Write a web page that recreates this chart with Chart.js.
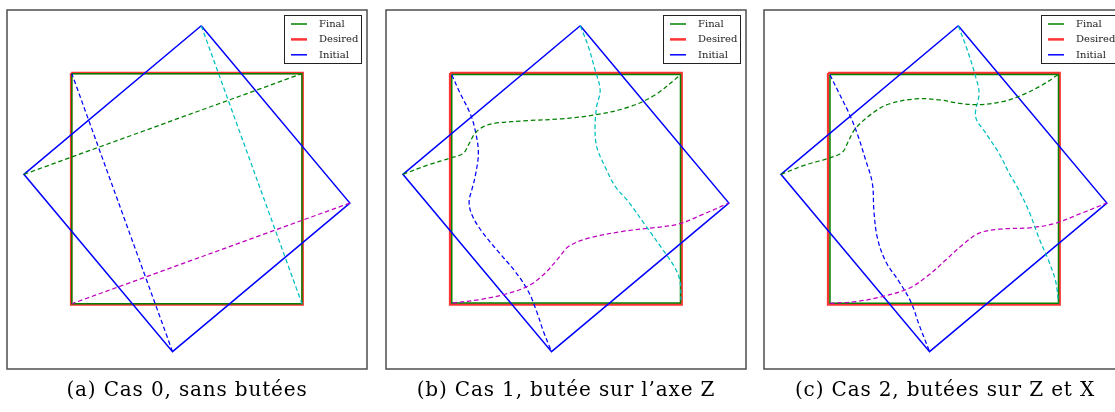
<!DOCTYPE html>
<html><head><meta charset="utf-8">
<script src="https://cdn.jsdelivr.net/npm/chart.js@4.4.1/dist/chart.umd.min.js"></script>
<style>
html,body{margin:0;padding:0;width:1115px;height:412px;overflow:hidden;background:#fff;}
.panel{position:absolute;top:0;width:380px;height:380px;}
.cap{position:absolute;top:377px;width:400px;text-align:center;font-family:"DejaVu Serif",serif;font-size:20px;letter-spacing:0.85px;color:#000;line-height:24px;white-space:nowrap;}
</style></head><body>
<div class="panel" style="left:-3px"><canvas id="c0" width="380" height="380"></canvas></div>
<div class="panel" style="left:376px"><canvas id="c1" width="380" height="380"></canvas></div>
<div class="panel" style="left:754px"><canvas id="c2" width="380" height="380"></canvas></div>
<div class="cap" id="t0" style="left:-13px"></div>
<div class="cap" id="t1" style="left:366px"></div>
<div class="cap" id="t2" style="left:745px"></div>
<script>
// ---- labels ----
const legendLabels = ['Final', 'Desired', 'Initial'];
const captions = ['(a) Cas 0, sans butées', '(b) Cas 1, butée sur l’axe Z', '(c) Cas 2, butées sur Z et X'];

// ---- squares ----
const desiredX = [-0.5, 0.5, 0.5, -0.5, -0.5];
const desiredY = [0.5, 0.5, -0.5, -0.5, 0.5];
const initialX = [0.062, 0.704, -0.062, -0.704, 0.062];
const initialY = [0.704, -0.062, -0.704, 0.062, 0.704];
const finalAX = [-0.497, 0.497, 0.497, -0.497, -0.497];
const finalAY = [0.497, 0.497, -0.497, -0.497, 0.497];
const finalBX = [-0.493, 0.495, 0.495, -0.493, -0.493];
const finalBY = [0.493, 0.493, -0.494, -0.494, 0.493];
const finalCX = [-0.492, 0.495, 0.495, -0.492, -0.492];
const finalCY = [0.493, 0.493, -0.495, -0.495, 0.493];

// ---- case 0 trajectories ----
const greenAX = [-0.704, 0.497], greenAY = [0.062, 0.497];
const cyanAX = [0.062, 0.497], cyanAY = [0.704, -0.497];
const magentaAX = [0.704, -0.497], magentaAY = [-0.062, -0.497];
const blueAX = [-0.062, -0.497], blueAY = [-0.704, 0.497];

// ---- case 1 trajectories ----
const greenBX = [-0.704, -0.594, -0.500, -0.443, -0.421, -0.392, -0.356, -0.306, -0.162, -0.018, 0.126, 0.270, 0.385, 0.493];
const greenBY = [0.062, 0.103, 0.132, 0.153, 0.189, 0.240, 0.268, 0.283, 0.294, 0.302, 0.319, 0.352, 0.405, 0.490];
const blueBX = [-0.493, -0.457, -0.414, -0.392, -0.378, -0.392, -0.405, -0.418, -0.406, -0.363, -0.292, -0.219, -0.162, -0.126, -0.097, -0.062];
const blueBY = [0.492, 0.413, 0.326, 0.254, 0.153, 0.052, 0.000, -0.056, -0.113, -0.185, -0.272, -0.358, -0.444, -0.531, -0.617, -0.704];
const cyanBX = [0.062, 0.097, 0.126, 0.148, 0.133, 0.126, 0.133, 0.169, 0.213, 0.270, 0.342, 0.414, 0.472, 0.493, 0.497];
const cyanBY = [0.704, 0.614, 0.513, 0.427, 0.355, 0.268, 0.182, 0.095, 0.010, -0.056, -0.156, -0.257, -0.343, -0.401, -0.480];
const magentaBX = [-0.490, -0.378, -0.263, -0.162, -0.090, -0.032, 0.011, 0.097, 0.241, 0.385, 0.486, 0.587, 0.704];
const magentaBY = [-0.494, -0.480, -0.456, -0.420, -0.365, -0.300, -0.250, -0.214, -0.185, -0.168, -0.153, -0.113, -0.062];

// ---- case 2 trajectories ----
const greenCX = [-0.704, -0.597, -0.496, -0.438, -0.410, -0.381, -0.309, -0.237, -0.122, -0.021, 0.066, 0.152, 0.253, 0.339, 0.425, 0.492];
const greenCY = [0.062, 0.103, 0.132, 0.158, 0.211, 0.261, 0.326, 0.366, 0.388, 0.384, 0.369, 0.363, 0.376, 0.405, 0.448, 0.492];
const blueCX = [-0.492, -0.453, -0.410, -0.375, -0.338, -0.309, -0.302, -0.287, -0.251, -0.194, -0.143, -0.107, -0.062];
const blueCY = [0.492, 0.413, 0.326, 0.240, 0.124, 0.024, -0.099, -0.214, -0.315, -0.401, -0.488, -0.588, -0.704];
const cyanCX = [0.062, 0.101, 0.137, 0.152, 0.137, 0.181, 0.238, 0.282, 0.318, 0.368, 0.411, 0.454, 0.483, 0.495];
const cyanCY = [0.704, 0.600, 0.484, 0.413, 0.311, 0.240, 0.153, 0.067, 0.005, -0.099, -0.214, -0.315, -0.401, -0.492];
const magentaCX = [-0.492, -0.381, -0.266, -0.150, -0.064, 0.008, 0.080, 0.152, 0.238, 0.382, 0.483, 0.584, 0.704];
const magentaCY = [-0.495, -0.488, -0.466, -0.430, -0.372, -0.308, -0.243, -0.192, -0.175, -0.168, -0.149, -0.110, -0.062];

const cases = [
  {fx: finalAX, fy: finalAY, g: [greenAX, greenAY], c: [cyanAX, cyanAY], m: [magentaAX, magentaAY], b: [blueAX, blueAY]},
  {fx: finalBX, fy: finalBY, g: [greenBX, greenBY], c: [cyanBX, cyanBY], m: [magentaBX, magentaBY], b: [blueBX, blueBY]},
  {fx: finalCX, fy: finalCY, g: [greenCX, greenCY], c: [cyanCX, cyanCY], m: [magentaCX, magentaCY], b: [blueCX, blueCY]}
];

const COL = {final: '#008000', desired: 'rgba(255,0,0,0.8)', initial: '#0000ff',
  g: '#008000', c: '#00bfbf', m: '#bf00bf', b: '#0000ff'};

function pts(xs, ys) { return xs.map((x, i) => ({x: x, y: ys[i]})); }
function ds(label, xs, ys, color, width, dashed) {
  return {label: label, data: pts(xs, ys), borderColor: color, backgroundColor: color,
    borderWidth: width, borderDash: dashed ? [4.5, 2.8] : [], showLine: true,
    pointRadius: 0, pointHoverRadius: 0, fill: false, tension: dashed ? 0.35 : 0,
    borderJoinStyle: 'miter', borderCapStyle: 'butt', isLegend: !dashed};
}

const boxLegend = {
  id: 'boxLegend',
  afterDraw(chart) {
    const ctx = chart.ctx, a = chart.chartArea;
    ctx.save();
    ctx.strokeStyle = '#4d4d4d'; ctx.lineWidth = 1.5;
    ctx.strokeRect(a.left, a.top, a.right - a.left, a.bottom - a.top);
    const w = 77, h = 48, x0 = Math.round(a.right - 6 - w), y0 = Math.round(a.top + 5);
    ctx.fillStyle = '#fff'; ctx.fillRect(x0, y0, w, h);
    ctx.strokeStyle = '#222'; ctx.lineWidth = 1; ctx.strokeRect(x0 + 0.5, y0 + 0.5, w, h);
    const items = chart.data.datasets.filter(d => d.isLegend);
    legendLabels.forEach((lab, i) => {
      const d = items.find(it => it.label === lab);
      const y = y0 + 9 + 15.4 * i;
      ctx.strokeStyle = d.borderColor; ctx.lineWidth = d.borderWidth; ctx.setLineDash([]);
      ctx.beginPath(); ctx.moveTo(x0 + 7, y); ctx.lineTo(x0 + 23, y); ctx.stroke();
      ctx.fillStyle = '#222'; ctx.font = '10px "DejaVu Serif"'; ctx.textBaseline = 'middle';
      ctx.fillText(lab, x0 + 35, y + 0.5);
    });
    ctx.restore();
  }
};

cases.forEach((cs, k) => {
  const datasets = [
    ds('traj-g', cs.g[0], cs.g[1], COL.g, 1.25, true),
    ds('traj-c', cs.c[0], cs.c[1], COL.c, 1.25, true),
    ds('traj-m', cs.m[0], cs.m[1], COL.m, 1.25, true),
    ds('traj-b', cs.b[0], cs.b[1], COL.b, 1.25, true),
    ds(legendLabels[2], initialX, initialY, COL.initial, 1.5, false),
    ds(legendLabels[0], cs.fx, cs.fy, COL.final, 1.5, false),
    ds(legendLabels[1], desiredX, desiredY, COL.desired, 2.5, false)
  ];
  new Chart(document.getElementById('c' + k), {
    type: 'scatter',
    data: {datasets: datasets},
    options: {
      responsive: false, animation: false, events: [],
      layout: {padding: {left: 10, right: 10, top: 10, bottom: 11}},
      plugins: {legend: {display: false}, tooltip: {enabled: false}},
      scales: {
        x: {type: 'linear', min: -0.777, max: 0.778, display: false},
        y: {type: 'linear', min: -0.779, max: 0.772, display: false}
      }
    },
    plugins: [boxLegend]
  });
  document.getElementById('t' + k).textContent = captions[k];
});
</script>
</body></html>
